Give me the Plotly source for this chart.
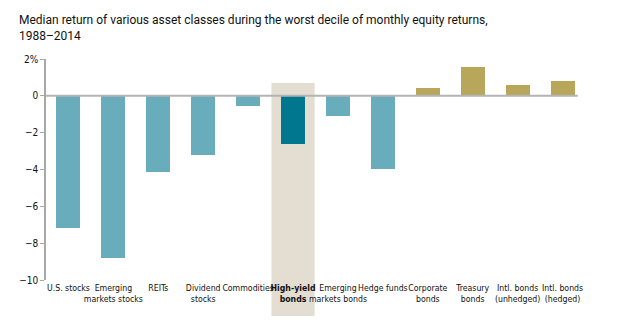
import plotly.graph_objects as go

categories = [
    "U.S. stocks", "Emerging<br>markets stocks", "REITs", "Dividend<br>stocks",
    "Commodities", "<b>High-yield<br>bonds</b>", "Emerging<br>markets bonds",
    "Hedge funds", "Corporate<br>bonds", "Treasury<br>bonds",
    "Intl. bonds<br>(unhedged)", "Intl. bonds<br>(hedged)",
]
median_returns = [-7.2, -8.8, -4.15, -3.2, -0.55, -2.6, -1.12, -3.97, 0.45, 1.54, 0.61, 0.83]
y_tick_values = [2, 0, -2, -4, -6, -8, -10]
y_tick_labels = ["2%", "0", "\u22122", "\u22124", "\u22126", "\u22128", "\u221210"]
highlight_index = 5
title_text = ("Median return of various asset classes during the worst decile of "
              "monthly equity returns,<br>1988\u20132014")

LIGHT_TEAL = "#69adbc"
DARK_TEAL = "#00768f"
GOLD = "#b8a75a"
SHADE = "#e3ddd2"
TITLE_FONT = "Roboto, Liberation Sans, Arial, sans-serif"
LABEL_FONT = "DejaVu Sans Condensed, Liberation Sans, sans-serif"

x_pos = list(range(len(categories)))
colors = []
for i, v in enumerate(median_returns):
    if i == highlight_index:
        colors.append(DARK_TEAL)
    elif v >= 0:
        colors.append(GOLD)
    else:
        colors.append(LIGHT_TEAL)

fig = go.Figure(
    go.Bar(
        x=x_pos,
        y=median_returns,
        marker=dict(color=colors, line=dict(width=0)),
        width=0.535,
        hoverinfo="skip",
    )
)

# shaded column behind the highlighted category
fig.add_shape(
    type="rect", xref="x", yref="paper",
    x0=highlight_index - 0.48, x1=highlight_index + 0.48,
    y0=-0.163, y1=0.891,
    fillcolor=SHADE, line=dict(width=0), layer="below",
)
# zero baseline
fig.add_shape(
    type="line", xref="x", yref="y",
    x0=-0.5, x1=11.34, y0=0, y1=0,
    line=dict(color="#b4b4b4", width=2), layer="above",
)

# two-line heading, left aligned above the plot
fig.add_annotation(
    text=title_text, xref="paper", yref="paper",
    x=-0.054, y=1.215, xanchor="left", yanchor="top", align="left",
    showarrow=False,
    font=dict(family=TITLE_FONT, size=12, color="#111111"),
)

fig.update_layout(
    width=626, height=326,
    margin=dict(l=46, r=41, t=59, b=46, autoexpand=False),
    paper_bgcolor="white", plot_bgcolor="rgba(0,0,0,0)",
    showlegend=False,
    bargap=0,
    xaxis=dict(
        range=[-0.5, 11.5],
        tickmode="array", tickvals=x_pos, ticktext=categories,
        tickangle=0, automargin=False,
        showgrid=False, zeroline=False, showline=False, ticks="",
        tickfont=dict(family=LABEL_FONT, size=8.7, color="#111111"),
        ticklabelstandoff=1,
    ),
    yaxis=dict(
        range=[-10, 2],
        tickmode="array", tickvals=y_tick_values, ticktext=y_tick_labels,
        automargin=False,
        showgrid=False, zeroline=False,
        showline=True, linecolor="#a8a8a8", linewidth=1.5,
        ticks="outside", ticklen=4, tickcolor="#a8a8a8", tickwidth=1,
        tickfont=dict(family=LABEL_FONT, size=10, color="#111111"),
    ),
)

fig.write_html("out.html")
